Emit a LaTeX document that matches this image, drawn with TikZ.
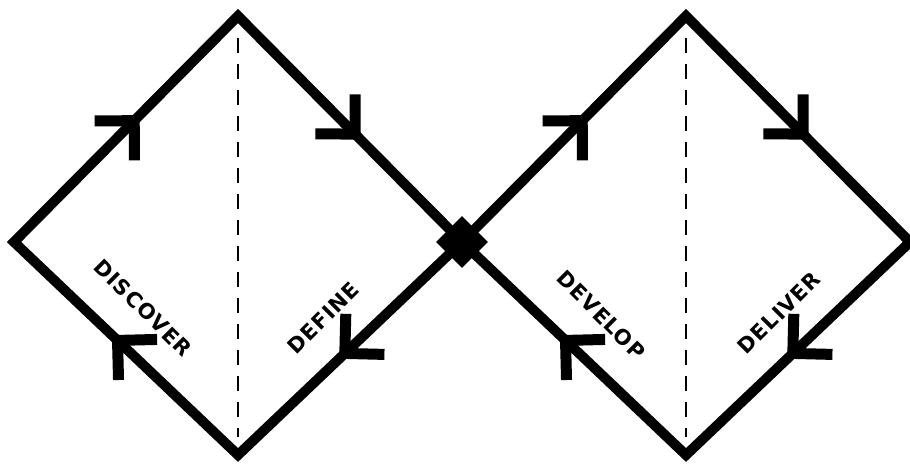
\documentclass[tikz,border=0pt]{standalone}
\usepackage{fontspec}
\usepackage{xcolor}
\usetikzlibrary{arrows.meta,decorations.markings,shapes.geometric}
\newfontfamily\phasefont[LetterSpace=5]{DejaVu Sans Bold}
\definecolor{InkBlack}{RGB}{0,0,0}

\begin{document}
\begin{tikzpicture}[x=1pt, y=1pt,
    loopedge/.style={line width=10pt, line join=miter, InkBlack},
    flow/.style={postaction={decorate}, decoration={markings,
        mark=between positions 0.1325 and 1 step 0.25 with {\draw[line width=11pt, line join=miter, InkBlack] (-28,28) -- (0,0) -- (-28,-28);}}},
    guide/.style={line width=2.5pt, dash pattern=on 15pt off 11pt, InkBlack},
    phaselabel/.style={font=\phasefont\fontsize{21}{21}\selectfont, inner sep=0pt}]
        \useasboundingbox (0,0) rectangle (910,470);
        % vertices of the two diamonds
        \coordinate (disL) at (14,228);
        \coordinate (disT) at (238,454);
        \coordinate (disB) at (238,15);
        \coordinate (mid) at (462,228);
        \coordinate (delT) at (686,454);
        \coordinate (delB) at (686,15);
        \coordinate (delR) at (910,228);
        % centre lines
        \draw[guide] ([yshift=-22pt]disT) -- ([yshift=18pt]disB);
        \draw[guide] ([yshift=-22pt]delT) -- ([yshift=18pt]delB);
        % the two loops
        \draw[loopedge, flow] (disB) -- (disL) -- (disT) -- (mid) -- cycle;
        \draw[loopedge, flow] (delB) -- (mid) -- (delT) -- (delR) -- cycle;
        \node[diamond, fill=InkBlack, inner sep=0pt, minimum size=52pt] (hub) at (mid) {};
        % phase names
        \node[phaselabel, rotate=-45] (discover) at (143,162) {DISCOVER};
        \node[phaselabel, rotate=45] (define) at (323,152) {DEFINE};
        \node[phaselabel, rotate=-45] (develop) at (601,155) {DEVELOP};
        \node[phaselabel, rotate=45] (deliver) at (779,157) {DELIVER};
      \end{tikzpicture}
\end{document}
